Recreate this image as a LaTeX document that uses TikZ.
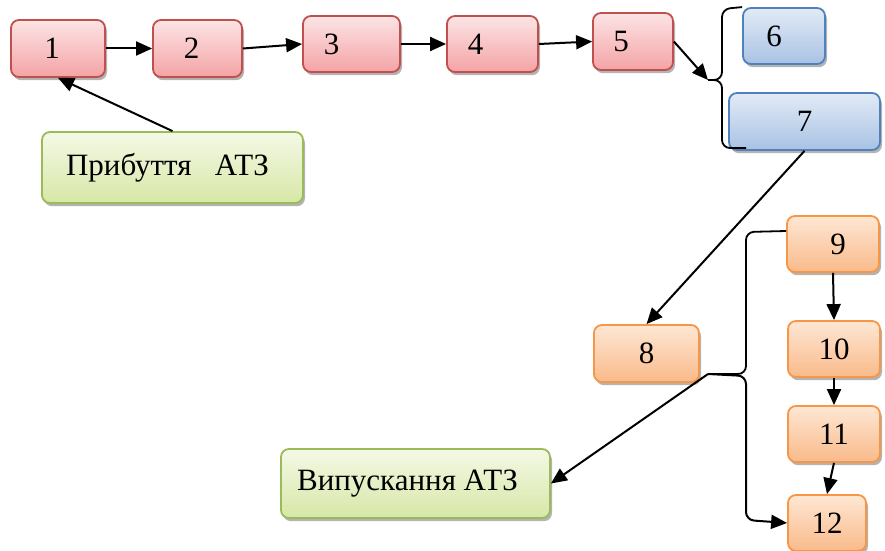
\documentclass[tikz,border=0pt]{standalone}
\usepackage{fontspec}
\setmainfont{Liberation Serif}
\usetikzlibrary{arrows.meta,shadows}

\definecolor{redline}{HTML}{C0504D}
\definecolor{redtop}{HTML}{FCE4E5}
\definecolor{redbot}{HTML}{F4A3A5}
\definecolor{blueline}{HTML}{4F81BD}
\definecolor{bluetop}{HTML}{E2EBF6}
\definecolor{bluebot}{HTML}{A9C2E4}
\definecolor{orline}{HTML}{F79646}
\definecolor{ortop}{HTML}{FEE7D4}
\definecolor{orbot}{HTML}{F9BA8A}
\definecolor{grline}{HTML}{9BBB59}
\definecolor{grtop}{HTML}{F4F9E6}
\definecolor{grbot}{HTML}{D7E7A6}

% text pushed to the left inside a box
\newcommand{\pushl}[2]{#2\hspace*{#1}}

\tikzset{
  box/.style={rounded corners=4pt, line width=0.9pt, inner sep=0pt,
    font=\fontsize{15.5}{18}\selectfont,
    drop shadow={shadow xshift=1pt, shadow yshift=-1.6pt, fill=black!50, opacity=0.6}},
  wh/.style 2 args={minimum width={#1*0.5pt}, minimum height={#2*0.5pt}},
  redbox/.style={box, draw=redline, top color=redtop, bottom color=redbot},
  bluebox/.style={box, draw=blueline, top color=bluetop, bottom color=bluebot},
  orbox/.style={box, draw=orline, top color=ortop, bottom color=orbot},
  grbox/.style={box, draw=grline, top color=grtop, bottom color=grbot},
  arr/.style={line width=1pt, -{Triangle[length=8pt,width=7pt]}},
  brace/.style={line width=0.9pt, rounded corners=4pt}
}

\begin{document}
\begin{tikzpicture}[x=0.5pt, y=-0.5pt]
        \useasboundingbox (0,0) rectangle (885,551);

        \node [redbox, wh={94}{57}] (n1) at (58,48.5) {\pushl{6pt}{1}};
        \node [redbox, wh={89}{57}] (n2) at (197.5,48.5) {\pushl{6pt}{2}};
        \node [redbox, wh={97}{56}] (n3) at (351.5,44) {\pushl{20pt}{3}};
        \node [redbox, wh={91}{56}] (n4) at (492.5,44) {\pushl{17pt}{4}};
        \node [redbox, wh={80}{57}] (n5) at (633,41.5) {\pushl{12pt}{5}};
        \node [bluebox, wh={82}{56}] (n6) at (784,36) {\pushl{10pt}{6}};
        \node [bluebox, wh={151}{57}] (n7) at (804.5,121.5) {7};
        \node [grbox, wh={261}{71}] (pryb) at (172.5,167.5) {\pushl{5pt}{Прибуття\ \ \ АТЗ}};

        \node [orbox, wh={105}{57}] (n8) at (646.5,353.5) {8};
        \node [orbox, wh={92}{56}] (n9) at (833,244) {9\hspace*{-5pt}};
        \node [orbox, wh={92}{56}] (n10) at (834,349) {10};
        \node [orbox, wh={92}{56}] (n11) at (834,434) {11};
        \node [orbox, wh={78}{56}] (n12) at (827,523) {12};
        \node [grbox, wh={269}{69}] (vyp) at (415.5,483.5) {\pushl{8pt}{Випускання АТЗ}};

        \coordinate (b1) at (708,80);
        \coordinate (b2) at (708,374);

        \draw [arr] (n1.east) -- (n2.west);
        \draw [arr] (n2.east) -- (n3.west);
        \draw [arr] (n3.east) -- (n4.west);
        \draw [arr] (n4.east) -- (n5.west);
        \draw [arr] (n5.east) -- (b1);
        \draw [arr] (pryb.north) -- (n1.south);

        \draw [brace] (n6.north west) -- (722,9) -- (722,80) -- (b1);
        \draw [brace] (b1) -- (722,80) -- (722,148) -- (746,148);

        \draw [arr] (n7.south) -- (n8.north);
        \draw [brace] (n9.west |- 0,231) -- (746,232) -- (746,374) -- (b2);
        \draw [brace, arr] (b2) -- (746,376) -- (746,520) -- (n12.west);
        \draw [arr] (b2) -- (vyp.east);

        \draw [arr] (n9.south) -- (n10.north);
        \draw [arr] (n10.south) -- (n11.north);
        \draw [arr] (n11.south) -- (n12.north);
\end{tikzpicture}
\end{document}
